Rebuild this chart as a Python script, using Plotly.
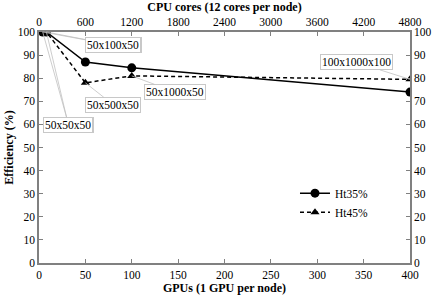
import plotly.graph_objects as go

gpus = [4, 8, 50, 100, 400]
ht35 = [100, 100, 87, 84.5, 74]
ht45 = [100, 100, 78, 81, 79.5]
labels = ["50x50x50", "50x100x50", "50x500x50", "50x1000x50", "100x1000x100"]
cpu_ticks = [0, 600, 1200, 1800, 2400, 3000, 3600, 4200, 4800]
y_ticks = list(range(0, 101, 10))
gpu_ticks = [0, 50, 100, 150, 200, 250, 300, 350, 400]

FAM = "Liberation Serif"
font = dict(family=FAM, size=11.5, color="black")
tfont = dict(family=FAM, size=12, color="black")
axcol = "#808080"

fig = go.Figure()
fig.add_trace(go.Scatter(x=gpus, y=ht35, name="Ht35%", mode="lines+markers",
                         line=dict(color="black", width=1.5),
                         marker=dict(symbol="circle", size=9, color="black")))
fig.add_trace(go.Scatter(x=gpus, y=ht45, name="Ht45%", mode="lines+markers",
                         line=dict(color="black", width=1.5, dash="4px,3px"),
                         marker=dict(symbol="triangle-up", size=8, color="black")))
fig.add_trace(go.Scatter(x=[0], y=[0], xaxis="x2", yaxis="y2", mode="markers",
                         marker=dict(opacity=0), showlegend=False, hoverinfo="skip"))

common = dict(showgrid=False, zeroline=False, showline=True, linecolor=axcol, linewidth=1.5,
              ticks="inside", ticklen=4, tickcolor=axcol, tickfont=font, automargin=False)

fig.update_layout(
    width=437, height=298,
    margin=dict(l=39, r=27, t=32, b=35),
    paper_bgcolor="white", plot_bgcolor="white",
    font=font,
    xaxis=dict(range=[0, 400], tickvals=gpu_ticks, **common,
               title=dict(text="<b>GPUs (1 GPU per node)</b>", font=tfont, standoff=2)),
    yaxis=dict(range=[0, 100], tickvals=y_ticks, **common,
               title=dict(text="<b>Efficiency (%)</b>", font=tfont, standoff=2)),
    xaxis2=dict(range=[0, 4800], tickvals=cpu_ticks, overlaying="x", side="top", anchor="y2", **common,
                title=dict(text="<b>CPU cores (12 cores per node)</b>", font=tfont, standoff=2)),
    yaxis2=dict(range=[0, 100], tickvals=y_ticks, overlaying="y", side="right", anchor="x2", **common),
    legend=dict(x=0.69, y=0.365, xanchor="left", yanchor="top", bgcolor="rgba(0,0,0,0)",
                font=font, tracegroupgap=4, itemwidth=30),
    showlegend=True,
)

ann_font = dict(family=FAM, size=11.5, color="black")
# (label index, x, y, ax, ay in pixel offsets)
placements = [
    (0, gpus[0], ht35[0], 26, 93),
    (0, gpus[1], ht45[1], 22, 93),
    (1, gpus[0], ht35[0], 71, 13),
    (1, gpus[1], ht35[1], 67, 13),
    (2, gpus[2], ht45[2], 28, 22),
    (3, gpus[3], ht45[3], 43, 16),
    (4, gpus[4], ht45[4], -54, -17),
]
for idx, x, y, ax, ay in placements:
    fig.add_annotation(x=x, y=y, ax=ax, ay=ay, text=labels[idx], showarrow=True,
                       arrowhead=0, arrowwidth=0.8, arrowcolor="#c0c0c0",
                       bordercolor="#c8c8c8", borderwidth=1, borderpad=1,
                       bgcolor="white", font=ann_font)

fig.write_html("out.html", config={"displayModeBar": False},
               post_script="document.body.style.margin='0';")
